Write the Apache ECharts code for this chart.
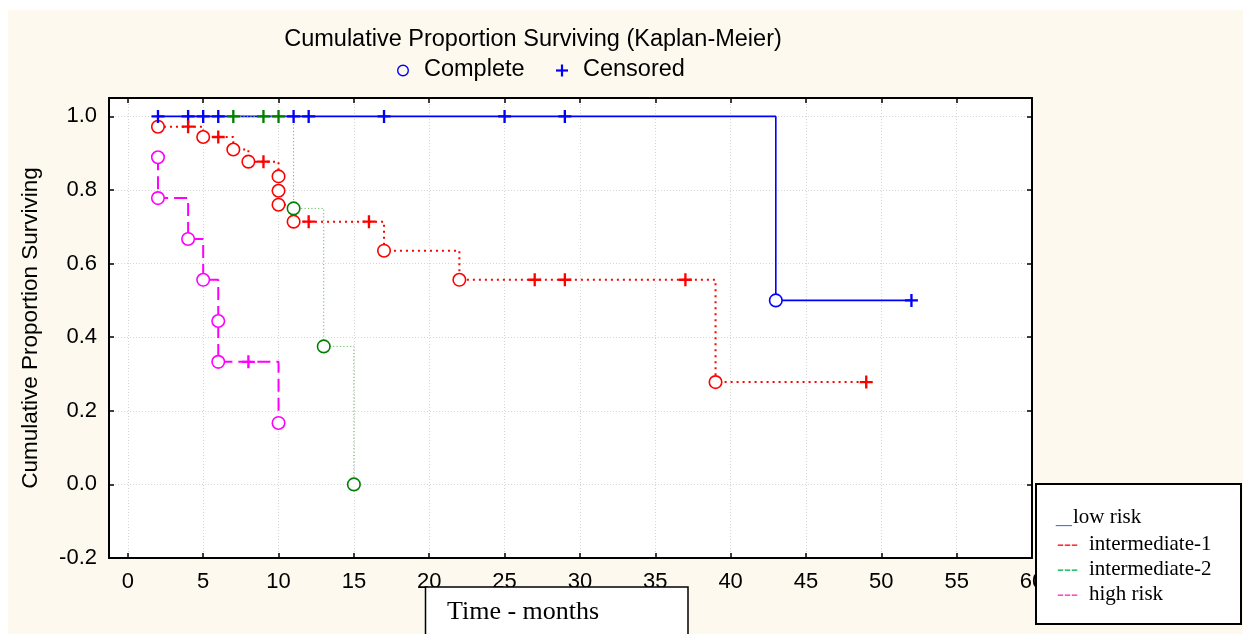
<!DOCTYPE html>
<html>
<head>
<meta charset="utf-8">
<script src="https://cdn.jsdelivr.net/npm/echarts@6/dist/echarts.min.js"></script>
<style>
html,body{margin:0;padding:0;background:#ffffff;}
#chart{width:1243px;height:634px;}
</style>
</head>
<body>
<div id="chart"></div>
<script>
// ---------------- DATA ----------------
const groupNames = ['low risk', 'intermediate-1', 'intermediate-2', 'high risk'];

// tick values / labels
const xTickValues = [0, 5, 10, 15, 20, 25, 30, 35, 40, 45, 50, 55, 60];
const yTickValues = [-0.2, 0.0, 0.2, 0.4, 0.6, 0.8, 1.0];

// low risk
const lowEventT = [43];
const lowEventS = [0.5];
const lowCensT = [2, 4, 5, 6, 11, 12, 17, 25, 29, 52];
const lowCensS = [1, 1, 1, 1, 1, 1, 1, 1, 1, 0.5];

// intermediate-1
const int1EventT = [2, 5, 7, 8, 10, 10, 10, 11, 17, 22, 39];
const int1EventS = [0.972, 0.944, 0.910, 0.877, 0.837, 0.798, 0.760, 0.714, 0.635, 0.556, 0.278];
const int1CensT = [4, 6, 9, 12, 16, 27, 29, 37, 49];
const int1CensS = [0.972, 0.944, 0.877, 0.714, 0.714, 0.556, 0.556, 0.556, 0.278];

// intermediate-2
const int2EventT = [11, 13, 15];
const int2EventS = [0.75, 0.375, 0.0];
const int2CensT = [7, 9, 10];
const int2CensS = [1, 1, 1];

// high risk
const highEventT = [2, 2, 4, 5, 6, 6, 10];
const highEventS = [0.889, 0.778, 0.667, 0.556, 0.444, 0.333, 0.167];
const highCensT = [8];
const highCensS = [0.333];

// ---------------- BUILD ----------------
function pairs(t, s) { return t.map((v, i) => [v, s[i]]); }
function curve(evT, evS, ceT, ceS) {
  const all = pairs(evT, evS).concat(pairs(ceT, ceS));
  all.sort((a, b) => (a[0] - b[0]) || (b[1] - a[1]));
  return all;
}

const styles = [
  { mark: '#0000ff', line: '#0000ff', type: 'solid', width: 1.6 },
  { mark: '#ff0000', line: '#ff0000', type: [2, 4], width: 2 },
  { mark: '#008000', line: '#66b866', type: [1.2, 2.2], width: 1 },
  { mark: '#ff00ff', line: '#ff00ff', type: [13, 6], width: 2 }
];
const groupData = [
  [lowEventT, lowEventS, lowCensT, lowCensS],
  [int1EventT, int1EventS, int1CensT, int1CensS],
  [int2EventT, int2EventS, int2CensT, int2CensS],
  [highEventT, highEventS, highCensT, highCensS]
];

const PLUS = 'path://M4.1,0H5.9V4.1H10V5.9H5.9V10H4.1V5.9H0V4.1H4.1Z';
const series = [];
groupData.forEach((g, i) => {
  const st = styles[i];
  series.push({
    name: groupNames[i], type: 'line', step: 'end',
    data: curve(g[0], g[1], g[2], g[3]),
    symbol: 'none', showSymbol: false, silent: true, z: 2 + i * 0.1,
    lineStyle: { color: st.line, width: st.width, type: st.type }
  });
});
groupData.forEach((g, i) => {
  const st = styles[i];
  series.push({
    name: groupNames[i] + ' complete', type: 'scatter',
    data: pairs(g[0], g[1]), symbol: 'circle', symbolSize: 12.5, silent: true, z: 5,
    itemStyle: { color: '#ffffff', borderColor: st.mark, borderWidth: 1.6, opacity: 1 }
  });
  series.push({
    name: groupNames[i] + ' censored', type: 'scatter',
    data: pairs(g[2], g[3]), symbol: PLUS, symbolSize: 13, silent: true, z: 6,
    itemStyle: { color: st.mark, opacity: 1 }
  });
});

const FONT = '"Liberation Sans", Arial, sans-serif';
const SERIF = '"Liberation Serif", "Times New Roman", serif';

const tickStyle = { show: true, inside: true, length: 5, lineStyle: { color: '#000', width: 1.5 } };
const lineStyleAxis = { show: true, onZero: false, lineStyle: { color: '#000', width: 2 } };

const xFmt = v => xTickValues.some(t => Math.abs(t - v) < 1e-6) ? String(Math.round(v)) : '';
const yFmt = v => yTickValues.some(t => Math.abs(t - v) < 1e-6) ? v.toFixed(1) : '';

const xBase = { type: 'value', min: -1.25, max: 60, minInterval: 5, maxInterval: 5, splitNumber: 12 };
const yBase = { type: 'value', min: -0.2, max: 1.05, minInterval: 0.2, maxInterval: 0.2, splitNumber: 6 };

const option = {
  backgroundColor: '#fdf9ee',
  animation: false,
  grid: { left: 109, right: 211, top: 98, bottom: 76, show: true, backgroundColor: '#ffffff', borderWidth: 0, containLabel: false, outerBoundsMode: 'none' },
  xAxis: [
    Object.assign({}, xBase, {
      position: 'bottom',
      axisLine: lineStyleAxis, axisTick: tickStyle,
      axisLabel: { show: true, formatter: xFmt, color: '#000', fontFamily: FONT, fontSize: 22, margin: 13, hideOverlap: false },
      splitLine: { show: true, lineStyle: { color: '#d6d6d6', type: [1, 2], width: 1 } }
    }),
    Object.assign({}, xBase, {
      position: 'top',
      axisLine: lineStyleAxis, axisTick: tickStyle,
      axisLabel: { show: false }, splitLine: { show: false }
    })
  ],
  yAxis: [
    Object.assign({}, yBase, {
      position: 'left',
      axisLine: lineStyleAxis, axisTick: tickStyle,
      axisLabel: { show: true, formatter: yFmt, color: '#000', fontFamily: FONT, fontSize: 22, margin: 12, hideOverlap: false },
      splitLine: { show: true, lineStyle: { color: '#d6d6d6', type: [1, 2], width: 1 } }
    }),
    Object.assign({}, yBase, {
      position: 'right',
      axisLine: lineStyleAxis, axisTick: tickStyle,
      axisLabel: { show: false }, splitLine: { show: false }
    })
  ],
  series: series,
  graphic: [
    // white page margins
    { type: 'rect', shape: { x: 0, y: 0, width: 1243, height: 10 }, style: { fill: '#ffffff' }, silent: true, z: 100 },
    { type: 'rect', shape: { x: 0, y: 0, width: 8, height: 634 }, style: { fill: '#ffffff' }, silent: true, z: 100 },
    // title
    { type: 'text', x: 533, y: 40, silent: true, z: 100,
      style: { text: 'Cumulative Proportion Surviving (Kaplan-Meier)', font: '23.5px ' + FONT, fill: '#000', align: 'center', verticalAlign: 'middle' } },
    // top legend: Complete / Censored
    { type: 'circle', shape: { cx: 403, cy: 70.5, r: 5.3 }, style: { fill: 'none', stroke: '#0000ff', lineWidth: 1.4 }, silent: true, z: 100 },
    { type: 'text', x: 424, y: 70, silent: true, z: 100,
      style: { text: 'Complete', font: '23.5px ' + FONT, fill: '#000', align: 'left', verticalAlign: 'middle' } },
    { type: 'line', silent: true, z: 100, shape: { x1: 562, y1: 64.5, x2: 562, y2: 76.5 }, style: { stroke: '#0000ff', lineWidth: 2.2 } },
    { type: 'line', silent: true, z: 100, shape: { x1: 556, y1: 70.5, x2: 568, y2: 70.5 }, style: { stroke: '#0000ff', lineWidth: 2.2 } },
    { type: 'text', x: 583, y: 70, silent: true, z: 100,
      style: { text: 'Censored', font: '23.5px ' + FONT, fill: '#000', align: 'left', verticalAlign: 'middle' } },
    // y axis title
    { type: 'text', x: 31, y: 328, rotation: Math.PI / 2, silent: true, z: 100,
      style: { text: 'Cumulative Proportion Surviving', font: '22.5px ' + FONT, fill: '#000', align: 'center', verticalAlign: 'middle' } },
    // x axis title box
    { type: 'rect', shape: { x: 425.5, y: 587, width: 262.5, height: 60 }, style: { fill: '#ffffff', stroke: '#000', lineWidth: 1.5 }, silent: true, z: 100 },
    { type: 'text', x: 447, y: 612, silent: true, z: 101,
      style: { text: 'Time - months', font: '26px ' + SERIF, fill: '#000', align: 'left', verticalAlign: 'middle' } },
    // group legend box
    { type: 'rect', shape: { x: 1036, y: 484, width: 205, height: 140 }, style: { fill: '#ffffff', stroke: '#000', lineWidth: 2 }, silent: true, z: 100 },
    { type: 'text', x: 1056, y: 517, scaleX: 1.5, silent: true, z: 101,
      style: { text: '_', font: '21px ' + SERIF, fill: '#2a7fc8', align: 'left', verticalAlign: 'middle' } },
    { type: 'text', x: 1073, y: 517, silent: true, z: 101,
      style: { text: groupNames[0], font: '21px ' + SERIF, fill: '#000', align: 'left', verticalAlign: 'middle' } },
    { type: 'text', x: 1057, y: 544, silent: true, z: 101,
      style: { text: '---', font: '21px ' + SERIF, fill: '#ff3030', align: 'left', verticalAlign: 'middle' } },
    { type: 'text', x: 1089, y: 544, silent: true, z: 101,
      style: { text: groupNames[1], font: '21px ' + SERIF, fill: '#000', align: 'left', verticalAlign: 'middle' } },
    { type: 'text', x: 1057, y: 569, silent: true, z: 101,
      style: { text: '---', font: '21px ' + SERIF, fill: '#2fbf6f', align: 'left', verticalAlign: 'middle' } },
    { type: 'text', x: 1089, y: 569, silent: true, z: 101,
      style: { text: groupNames[2], font: '21px ' + SERIF, fill: '#000', align: 'left', verticalAlign: 'middle' } },
    { type: 'text', x: 1057, y: 594, silent: true, z: 101,
      style: { text: '---', font: '21px ' + SERIF, fill: '#ff4fc8', align: 'left', verticalAlign: 'middle' } },
    { type: 'text', x: 1089, y: 594, silent: true, z: 101,
      style: { text: groupNames[3], font: '21px ' + SERIF, fill: '#000', align: 'left', verticalAlign: 'middle' } }
  ]
};

const chart = echarts.init(document.getElementById('chart'), null, { renderer: 'canvas' });
chart.setOption(option);
</script>
</body>
</html>
